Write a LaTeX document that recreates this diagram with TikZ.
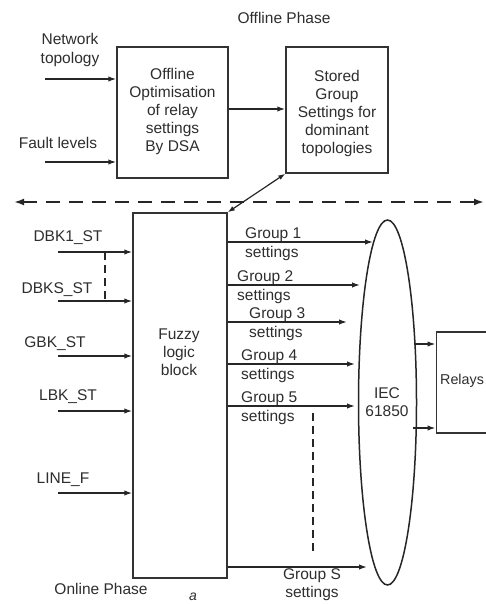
\documentclass[tikz,border=0pt]{standalone}
\usepackage{fontspec}
\setmainfont{Liberation Sans}
\usetikzlibrary{arrows.meta,shapes.geometric}
\begin{document}
\begin{tikzpicture}[x=1pt,y=-1pt,
  txt/.style={font=\fontsize{15.5}{18.2}\selectfont, text=black!82, inner sep=0pt, align=center},
  box/.style={draw=black!80, line width=1.5pt, inner sep=0pt},
  arr/.style={draw=black!85, line width=1.5pt, -{Latex[length=8pt,width=5.5pt]}},
  barr/.style={draw=black!85, line width=1.2pt, {Latex[length=7pt,width=5pt]}-{Latex[length=7pt,width=5pt]}},
  dsh/.style={draw=black!85, line width=2.2pt, dash pattern=on 14pt off 9pt, {Latex[length=10pt,width=7pt]}-{Latex[length=10pt,width=7pt]}},
  vdsh/.style={draw=black!85, line width=1.5pt, dash pattern=on 8pt off 5pt}]
\useasboundingbox (0,0) rectangle (486,604);
\clip (0,0) rectangle (486,604);
\fill[white] (0,0) rectangle (486,604);

% offline part
\node[txt] (offph) at (284,18) {Offline Phase};
\node[box, minimum width=111pt, minimum height=131pt] (opt) at (172.5,112.5) {};
\node[txt] (optt) at (172.5,111.5) {Offline\\Optimisation\\of relay\\settings\\By DSA};
\node[box, minimum width=102pt, minimum height=126pt] (sto) at (337,110) {};
\node[txt] (stot) at (337,113.5) {Stored\\Group\\Settings for\\dominant\\topologies};
\node[txt] (ntop) at (70,50) {Network\\topology};
\node[txt] (flev) at (58,143) {Fault levels};
\coordinate (ntin) at (45,79);
\coordinate (flin) at (45,162);
\draw[arr] (ntin) -- (ntin -| opt.west);
\draw[arr] (flin) -- (flin -| opt.west);
\draw[arr] (opt.east |- 0,109) -- (sto.west |- 0,109);

% separator
\coordinate (sepl) at (14,202);
\coordinate (sepr) at (484,202);
\draw[dsh] (sepl) -- (sepr);

% fuzzy block
\node[box, minimum width=94pt, minimum height=365pt] (fz) at (180,395.5) {};
\node[txt] (fzt) at (179,352) {Fuzzy\\logic\\block};
\draw[barr] (fz.north east) -- (sto.south west);

% inputs
\foreach \nm/\lab/\ly/\ay/\lx in {d1/DBK1\_ST/238/252/68, ds/DBKS\_ST/290/301/57, g/GBK\_ST/344/356/55, l/LBK\_ST/397/411/68, lf/LINE\_F/480/493/63}{
  \node[txt] (lab\nm) at (\lx,\ly) {\lab};
  \coordinate (in\nm) at (58,\ay);
  \draw[arr] (in\nm) -- (in\nm -| fz.west);
}
\coordinate (vd1) at (105,252);
\coordinate (vd2) at (105,301);
\draw[vdsh] (vd1) -- (vd2);

% IEC ellipse
\node[draw=black!85, line width=1.5pt, ellipse, minimum width=58pt, minimum height=365pt, inner sep=0pt] (iec) at (387.5,402.5) {};
\node[txt] (iect) at (387,402) {IEC\\61850};

% group outputs
\foreach \nm/\lab/\ay/\ex/\gx in {g1/Group 1/242/373/272, g2/Group 2/285/360/264, g3/Group 3/322/347/276, g4/Group 4/364/355/268, g5/Group 5/406/355/268}{
  \coordinate (e\nm) at (\ex,\ay);
  \draw[arr] (fz.east |- e\nm) -- (e\nm);
  \node[txt, anchor=base west] (gl\nm) at (\gx-27,\ay-3.5) {\lab};
  \node[txt, anchor=base west] (sl\nm) at (\gx-27,\ay+15.5) {settings};
}
\coordinate (egs) at (367,567);
\draw[arr] (fz.east |- egs) -- (egs);
\node[txt] (glgs) at (312,585) {Group S\\settings};
\coordinate (vd3) at (313,413);
\coordinate (vd4) at (313,552);
\draw[vdsh] (vd3) -- (vd4);

% relays
\node[box, anchor=north west, minimum width=90pt, minimum height=101pt] (rel) at (435.5,331) {};
\node[txt, anchor=west, font=\fontsize{14.3}{17}\selectfont] (relt) at (440,381) {Relays};
\coordinate (r1) at (413.5,344);
\coordinate (r2) at (412.5,428);
\draw[arr] (r1) -- (r1 -| rel.west);
\draw[arr] (r2) -- (r2 -| rel.west);

% captions
\node[txt] (onph) at (101,589) {Online Phase};
\node[txt, font=\fontsize{14}{18}\selectfont\itshape] (cap) at (193,597) {a};
\end{tikzpicture}
\end{document}
